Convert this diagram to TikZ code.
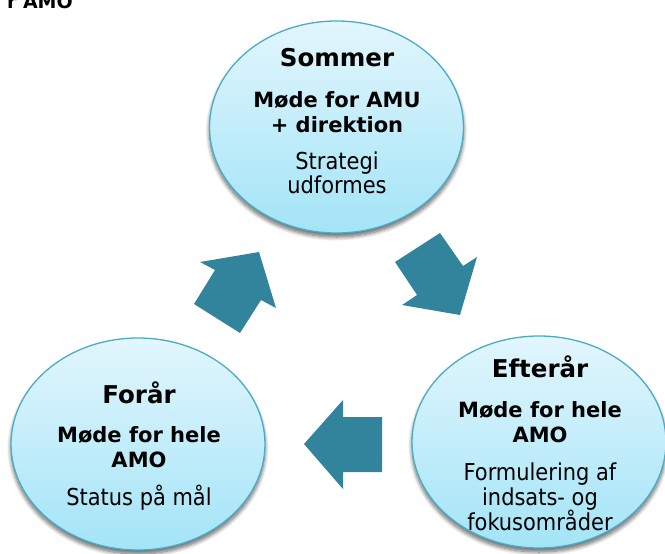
\documentclass[tikz,border=0pt]{standalone}
\usepackage{fontspec}
\setmainfont{DejaVu Sans}
\newfontfamily\condfont{DejaVu Sans Condensed}
\usetikzlibrary{shapes.geometric,shadows.blur}

\definecolor{ringblue}{HTML}{4BACC6}
\definecolor{filltop}{HTML}{E2F6FD}
\definecolor{fillbottom}{HTML}{A3E4F7}
\definecolor{arrowteal}{HTML}{31849B}

\tikzset{
  season/.style={ellipse, draw=ringblue, line width=1.3pt,
    top color=filltop, bottom color=fillbottom,
    minimum width=254pt, minimum height=212pt, inner sep=0pt,
    blur shadow={shadow xshift=0pt, shadow yshift=-4pt,
      shadow blur steps=10, shadow blur radius=4pt, shadow opacity=60}},
  titletext/.style={anchor=base, inner sep=0pt, font=\bfseries\fontsize{24.5}{28}\selectfont},
  subtext/.style={anchor=base, inner sep=0pt, font=\bfseries\fontsize{21}{25}\selectfont},
  bodytext/.style={anchor=base, inner sep=0pt, font=\condfont\fontsize{23.3}{26}\selectfont},
  cyclearrow/.style={fill=arrowteal, draw=none}
}

\begin{document}
\begin{tikzpicture}[x=1pt, y=-1pt]
  \useasboundingbox (0,0) rectangle (665,554);
  \clip (0,0) rectangle (665,554);

  % heading cut by the top edge
  \node[anchor=base east, inner sep=0pt, font=\bfseries\fontsize{19}{22}\selectfont] (heading) at (73,9) {r AMO};

  % the three seasons
  \node[season] (sommer) at (336.5,127) {};
  \node[season] (foraar) at (138,444) {};
  \node[season] (efteraar) at (539,442) {};

  % Sommer
  \node[titletext] (s1) at (337,66.7) {Sommer};
  \node[subtext]   (s2) at (337,107) {Møde for AMU};
  \node[subtext]   (s3) at (337,132) {+ direktion};
  \node[bodytext]  (s4) at (337,169) {Strategi};
  \node[bodytext]  (s5) at (337,193) {udformes};

  % Efterår
  \node[titletext] (e1) at (540,377) {Efterår};
  \node[subtext]   (e2) at (540,417) {Møde for hele};
  \node[subtext]   (e3) at (540,442) {AMO};
  \node[bodytext]  (e4) at (540,480) {Formulering af};
  \node[bodytext]  (e5) at (540,505) {indsats- og};
  \node[bodytext]  (e6) at (540,530) {fokusområder};

  % Forår
  \node[titletext] (f1) at (139,403) {Forår};
  \node[subtext]   (f2) at (139,442) {Møde for hele};
  \node[subtext]   (f3) at (139,467) {AMO};
  \node[bodytext]  (f4) at (139,505) {Status på mål};

  % block arrows of the cycle
  \fill[cyclearrow] (460,315) -- (402,305) -- (417,295) -- (395,262)
    -- (440,233) -- (463,266) -- (477,257) -- cycle;
  \fill[cyclearrow] (304,444) -- (343,400) -- (343,417) -- (382,417)
    -- (382,472) -- (343,472) -- (343,489) -- cycle;
  \fill[cyclearrow] (259,252) -- (276,308) -- (261,300) -- (240,333)
    -- (194,304) -- (215,270) -- (200,262) -- cycle;
\end{tikzpicture}
\end{document}
